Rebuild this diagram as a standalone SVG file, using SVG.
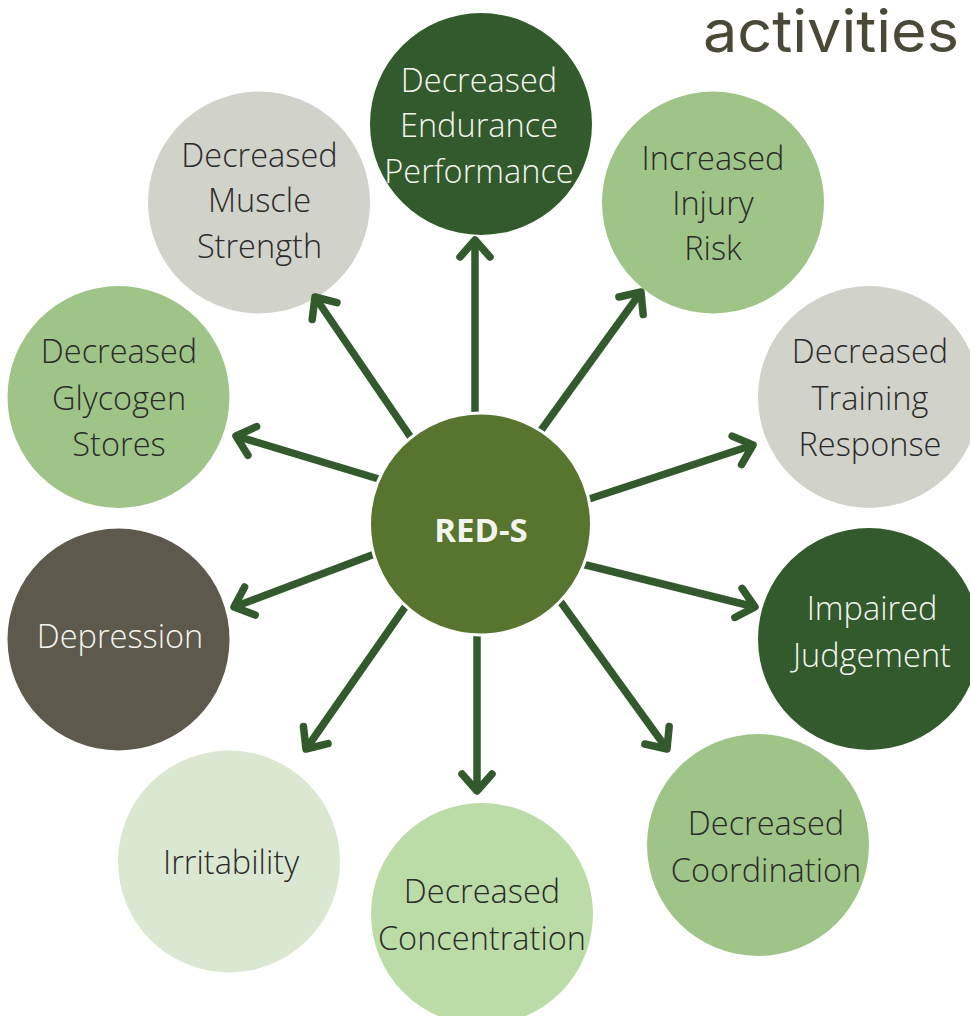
<svg xmlns="http://www.w3.org/2000/svg" width="970" height="1016" viewBox="0 0 970 1016">
<style>
.lbl{font-family:"Open Sans","Noto Sans","Liberation Sans",sans-serif;font-weight:300;font-size:32.5px;text-anchor:middle}
.dk{fill:#2b2b2b}
.wt{fill:#f4f4ef}
.conn line{stroke:#325a2c;stroke-width:7.5;fill:none;marker-end:url(#chev)}
</style>
<defs>
<marker id="chev" markerUnits="userSpaceOnUse" markerWidth="40" markerHeight="40" refX="0" refY="0" orient="auto" overflow="visible">
<path d="M -17 -15 L 0 0 L -17 15" fill="none" stroke="#325a2c" stroke-width="7.5" stroke-linecap="round" stroke-linejoin="round"/>
</marker>
</defs>
<rect width="970" height="1016" fill="#ffffff"/>
<text x="703" y="52" font-family="Inter,'Open Sans',sans-serif" font-size="58" fill="#4a4836" textLength="256" lengthAdjust="spacingAndGlyphs">activities</text>
<g id="n-endurance"><circle cx="481" cy="124" r="111" fill="#325a2c"/><text class="lbl wt"><tspan x="479" y="92">Decreased</tspan><tspan x="479" y="137">Endurance</tspan><tspan x="479" y="183">Performance</tspan></text></g>
<g id="n-injury"><circle cx="713" cy="202.5" r="111" fill="#9fc487"/><text class="lbl dk"><tspan x="713" y="170">Increased</tspan><tspan x="713" y="215">Injury</tspan><tspan x="713" y="260">Risk</tspan></text></g>
<g id="n-muscle"><circle cx="259" cy="202.5" r="111" fill="#d1d2c9"/><text class="lbl dk"><tspan x="259.5" y="167">Decreased</tspan><tspan x="259.5" y="212">Muscle</tspan><tspan x="259.5" y="258">Strength</tspan></text></g>
<g id="n-glycogen"><circle cx="118.5" cy="397" r="111" fill="#9fc487"/><text class="lbl dk"><tspan x="119" y="363">Decreased</tspan><tspan x="119" y="410">Glycogen</tspan><tspan x="119" y="456">Stores</tspan></text></g>
<g id="n-training"><circle cx="869" cy="397" r="111" fill="#d1d2c9"/><text class="lbl dk"><tspan x="870" y="363">Decreased</tspan><tspan x="870" y="410">Training</tspan><tspan x="870" y="456">Response</tspan></text></g>
<g id="n-judgement"><circle cx="869" cy="639" r="111" fill="#325a2c"/><text class="lbl wt"><tspan x="872" y="620">Impaired</tspan><tspan x="872" y="667">Judgement</tspan></text></g>
<g id="n-depression"><circle cx="118.5" cy="639.5" r="111" fill="#5d594d"/><text class="lbl wt" x="120" y="648">Depression</text></g>
<g id="n-irritability"><circle cx="229" cy="861.5" r="111" fill="#dbe8d1"/><text class="lbl dk" x="231" y="874">Irritability</text></g>
<g id="n-concentration"><circle cx="482" cy="914" r="111" fill="#bbdca6"/><text class="lbl dk"><tspan x="482" y="903">Decreased</tspan><tspan x="482" y="950">Concentration</tspan></text></g>
<g id="n-coordination"><circle cx="758" cy="845" r="111" fill="#9fc487"/><text class="lbl dk"><tspan x="766" y="835">Decreased</tspan><tspan x="766" y="882">Coordination</tspan></text></g>
<g id="connectors" class="conn">
<line x1="475" y1="430" x2="475" y2="240"/>
<line x1="534" y1="440" x2="641" y2="292"/>
<line x1="416" y1="445" x2="315" y2="297"/>
<line x1="392" y1="483" x2="236" y2="436"/>
<line x1="580" y1="502" x2="753" y2="445"/>
<line x1="380" y1="552" x2="234" y2="607"/>
<line x1="578" y1="563" x2="755" y2="607"/>
<line x1="410" y1="600" x2="306" y2="749"/>
<line x1="477" y1="630" x2="477" y2="791"/>
<line x1="560" y1="601" x2="667" y2="749"/>
</g>
<g id="n-reds"><circle cx="480.5" cy="524" r="111" fill="#58752f" stroke="#ffffff" stroke-width="3"/><text x="481" y="542" font-family="'Open Sans','Noto Sans',sans-serif" font-weight="700" font-size="33" fill="#f4f4ef" text-anchor="middle">RED-S</text></g>
</svg>
